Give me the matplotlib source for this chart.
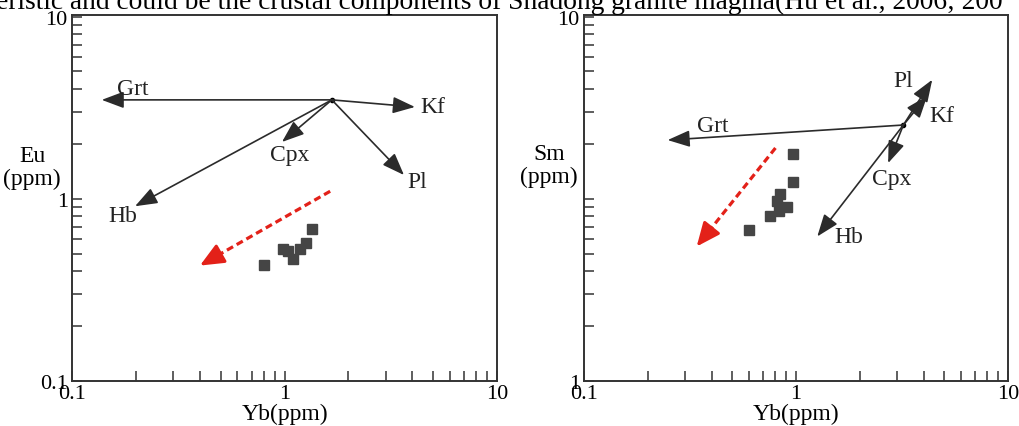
import numpy as np
import matplotlib.pyplot as plt
from matplotlib.ticker import FixedLocator, FixedFormatter, NullFormatter

plt.rcParams['font.family'] = ['Liberation Serif', 'DejaVu Serif']

# Eu vs Yb panel
eu_origin = (1.67, 3.49)
eu_names = ['Grt', 'Kf', 'Cpx', 'Pl', 'Hb']
eu_tip_x = [0.138, 4.11, 0.973, 3.65, 0.198]
eu_tip_y = [3.49, 3.19, 2.05, 1.35, 0.91]
eu_lab_x = [0.194, 5.0, 1.06, 4.21, 0.174]
eu_lab_y = [4.01, 3.19, 1.74, 1.25, 0.81]
eu_yb = [0.80, 0.98, 1.04, 1.10, 1.18, 1.26, 1.35]
eu_val = [0.435, 0.533, 0.514, 0.47, 0.533, 0.575, 0.68]
eu_trend = ([1.64, 0.40], [1.10, 0.43])

# Sm vs Yb panel
sm_origin = (3.21, 25.4)
sm_names = ['Grt', 'Pl', 'Kf', 'Cpx', 'Hb']
sm_tip_x = [0.248, 4.39, 4.16, 2.72, 1.26]
sm_tip_y = [21.0, 45.0, 36.7, 15.7, 6.21]
sm_lab_x = [0.404, 3.21, 4.89, 2.84, 1.77]
sm_lab_y = [25.1, 44.4, 28.8, 13.0, 6.2]
sm_yb = [0.97, 0.97, 0.836, 0.81, 0.91, 0.83, 0.75, 0.60]
sm_val = [17.6, 12.3, 10.6, 9.69, 8.98, 8.53, 8.01, 6.71]
sm_trend = ([0.80, 0.34], [19.0, 5.47])

caption = "eristic and could be the crustal components of Shadong granite magma(Hu et al., 2006; 200"

W, H = 1019, 427
fig = plt.figure(figsize=(W / 100, H / 100), dpi=100)
ax1 = fig.add_axes([72 / W, 1 - 382 / H, 425 / W, 366 / H])
ax2 = fig.add_axes([584 / W, 1 - 382 / H, 424 / W, 366 / H])

red = '#e32119'
dark = '#2b2b2b'


def draw_panel(ax, origin, names, tx, ty, lx, ly, xs, ys, trend):
    ax.set_xscale('log')
    ax.set_yscale('log')
    for n, x, y, a, b in zip(names, tx, ty, lx, ly):
        ax.annotate('', xy=(x, y), xytext=origin,
                    arrowprops=dict(arrowstyle='-|>,head_length=0.8,head_width=0.3',
                                    mutation_scale=17, color=dark, lw=1.2,
                                    shrinkA=0, shrinkB=0))
        ax.text(a, b, n, fontsize=17, ha='center', va='center', color='#222222')
    ax.plot(*origin, 'o', color='black', ms=3)
    ax.plot(xs, ys, 's', color='#454545', ms=7.5, mec='#454545')
    # red trend: dashed shaft + solid head
    (x0, x1), (y0, y1) = trend
    f = 0.88
    xm = 10 ** (np.log10(x0) + f * (np.log10(x1) - np.log10(x0)))
    ym = 10 ** (np.log10(y0) + f * (np.log10(y1) - np.log10(y0)))
    ax.plot([x0, xm], [y0, ym], color=red, lw=2.3, dashes=(2.2, 1.3))
    ax.annotate('', xy=(x1, y1), xytext=(xm, ym),
                arrowprops=dict(arrowstyle='-|>,head_length=0.8,head_width=0.35',
                                mutation_scale=18, color=red, lw=2.2,
                                shrinkA=0, shrinkB=0))
    ax.set_xlim(0.1, 10)
    ax.xaxis.set_major_locator(FixedLocator([0.1, 1, 10]))
    ax.xaxis.set_major_formatter(FixedFormatter(['0.1', '1', '10']))
    ax.xaxis.set_minor_formatter(NullFormatter())
    ax.tick_params(which='both', direction='in', length=7, width=1.1,
                   color='#333333', labelsize=16, top=False, right=False)
    ax.tick_params(axis='x', which='both', pad=2)
    ax.tick_params(axis='y', which='both', pad=3)
    for s in ax.spines.values():
        s.set_linewidth(1.4)
        s.set_color('#333333')
    ax.set_xlabel('Yb(ppm)', fontsize=17, labelpad=0)


draw_panel(ax1, eu_origin, eu_names, eu_tip_x, eu_tip_y, eu_lab_x, eu_lab_y,
           eu_yb, eu_val, eu_trend)
ax1.set_ylim(0.1, 10.2)
ax1.yaxis.set_major_locator(FixedLocator([0.1, 1, 10]))
ax1.yaxis.set_major_formatter(FixedFormatter(['0.1', '1', '10']))
ax1.yaxis.set_minor_formatter(NullFormatter())
ax1.text(-0.094, 0.585, 'Eu\n(ppm)', transform=ax1.transAxes, fontsize=17,
         ha='center', va='center', linespacing=1.15)

draw_panel(ax2, sm_origin, sm_names, sm_tip_x, sm_tip_y, sm_lab_x, sm_lab_y,
           sm_yb, sm_val, sm_trend)
ax2.set_ylim(1, 102)
ax2.yaxis.set_major_locator(FixedLocator([1, 10, 100]))
ax2.yaxis.set_major_formatter(FixedFormatter(['1', '', '10']))
ax2.yaxis.set_minor_formatter(NullFormatter())
ax2.text(-0.082, 0.59, 'Sm\n(ppm)', transform=ax2.transAxes, fontsize=17,
         ha='center', va='center', linespacing=1.15)

fig.text(-0.004, 1 - 9 / H, caption, fontsize=19.8, ha='left', va='baseline')

fig.savefig('out.png', dpi=100)
